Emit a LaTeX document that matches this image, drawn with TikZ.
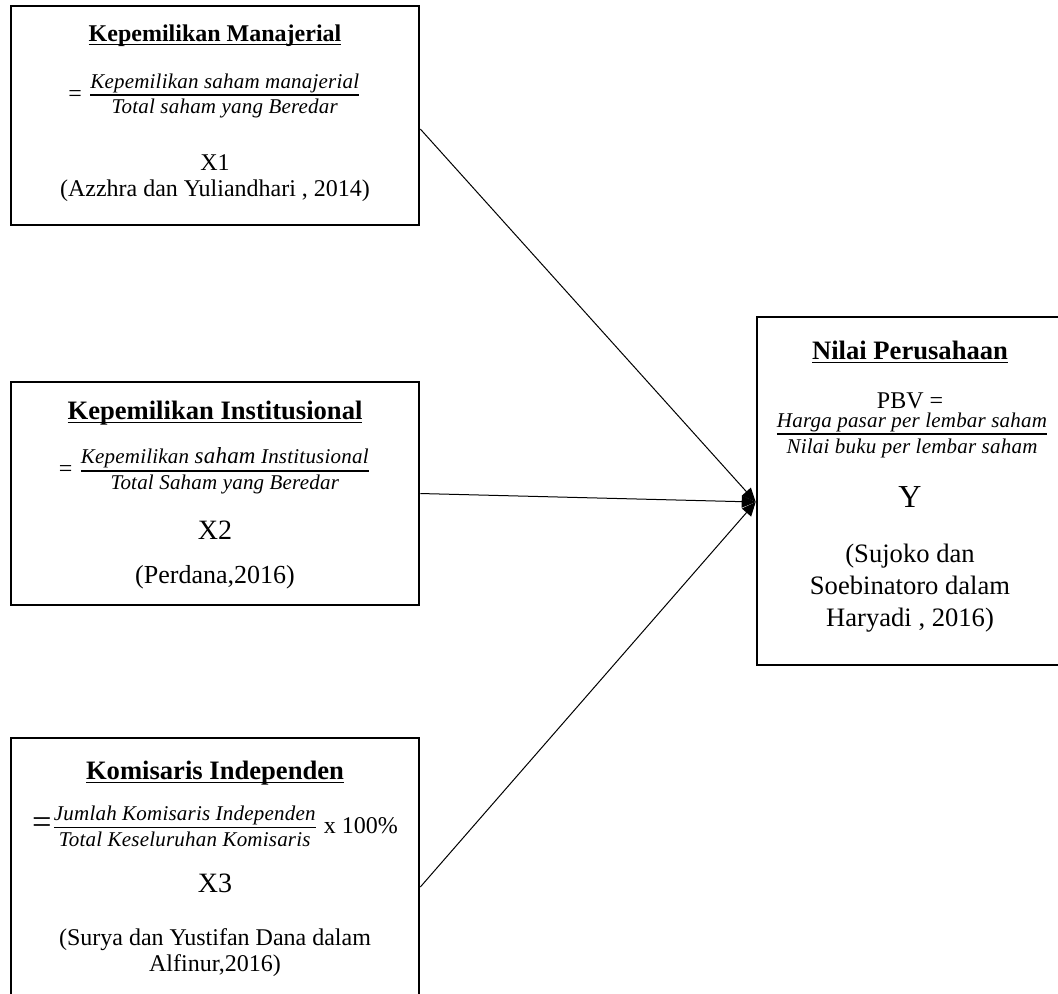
\documentclass[tikz,border=0pt,12pt]{standalone}
\usepackage{amsmath}
\usepackage{fontspec}
\setmainfont{Liberation Serif}
\newfontfamily\fracfont{Liberation Serif}[LetterSpace=1]
\usetikzlibrary{arrows.meta}

% underlined bold heading, rule at a fixed depth
\newcommand{\judul}[1]{\setbox0\hbox{\bfseries #1}\rlap{\rule[-2.2pt]{\wd0}{0.8pt}}\box0}
% fraction written as in the word processor
\newcommand{\rumus}[2]{$\genfrac{}{}{0.9pt}{1}{\hbox{\fontsize{10.5}{12}\fracfont\itshape #1}}{\hbox{\rule{0pt}{8pt}\fontsize{10.5}{12}\fracfont\itshape #2}}$}

\begin{document}
\begin{tikzpicture}[x=0.5pt,y=-0.5pt,>={Triangle[length=7pt,width=6pt]}]

      \useasboundingbox (0,0) rectangle (1058,993);

      \node[rectangle,
            draw,
            line width = 1.3pt,
            minimum width = 204pt,
            minimum height = 109.5pt] (km) at (215,115.5) {};
      \node[anchor=base] (km-judul) at (215,41) {\judul{Kepemilikan Manajerial}};
      \node[anchor=center] (km-rumus) at (215,96)
            {= \rumus{Kepemilikan saham manajerial}{Total saham yang Beredar}};
      \node[anchor=base] (km-x) at (215,170) {X1};
      \node[anchor=base] (km-sumber) at (215,196) {(Azzhra dan Yuliandhari , 2014)};

      \node[rectangle,
            draw,
            line width = 1.3pt,
            minimum width = 204pt,
            minimum height = 111.5pt] (ki) at (215,493.5) {};
      \node[anchor=base] (ki-judul) at (215,419)
            {\fontsize{13.3}{16}\selectfont\judul{Kepemilikan Institusional}};
      \node[anchor=center] (ki-rumus) at (215,471)
            {= \rumus{Kepemilikan {\fontsize{11.5}{12}\selectfont saham} Institusional}{Total Saham yang Beredar}};
      \node[anchor=base] (ki-x) at (215,539) {\fontsize{14}{17}\selectfont X2};
      \node[anchor=base] (ki-sumber) at (215,583) {\fontsize{13}{16}\selectfont (Perdana,2016)};

      \node[rectangle,
            draw,
            line width = 1.3pt,
            minimum width = 204pt,
            minimum height = 136pt] (kin) at (215,874) {};
      \node[anchor=base] (kin-judul) at (215,779)
            {\fontsize{13.3}{16}\selectfont\judul{Komisaris Independen}};
      \node[anchor=center] (kin-rumus) at (215,826)
            {{\Large =}\rumus{Jumlah Komisaris Independen}{Total Keseluruhan Komisaris} x 100\%};
      \node[anchor=base] (kin-x) at (215,892) {\fontsize{14}{17}\selectfont X3};
      \node[anchor=base,
            align=center,
            font=\fontsize{12}{13}\selectfont] (kin-sumber) at (215,971)
            {(Surya dan Yustifan Dana dalam\\Alfinur,2016)};

      \node[rectangle,
            draw,
            line width = 1.3pt,
            minimum width = 153pt,
            minimum height = 174pt] (np) at (910,491) {};
      \node[anchor=base] (np-judul) at (910,359)
            {\fontsize{13.3}{16}\selectfont\judul{Nilai Perusahaan}};
      \node[anchor=base] (np-pbv) at (910,408) {PBV =};
      \node[anchor=center] (np-rumus) at (912,435)
            {\rumus{Harga pasar per lembar saham}{Nilai buku per lembar saham}};
      \node[anchor=base] (np-y) at (910,507) {\fontsize{16}{19}\selectfont Y};
      \node[anchor=base,
            align=center,
            font=\fontsize{13.3}{16}\selectfont] (np-sumber) at (910,626)
            {(Sujoko dan\\Soebinatoro dalam\\Haryadi , 2016)};

      \path[->, line width=0.5pt]
      % X1, X2, X3 to Y
      ([yshift=-6.75pt]km.east) edge ([yshift=-5.5pt]np.west)
      (ki.east) edge ([yshift=-5.5pt]np.west)
      ([yshift=-6.5pt]kin.east) edge ([yshift=-5.5pt]np.west);

\end{tikzpicture}
\end{document}
